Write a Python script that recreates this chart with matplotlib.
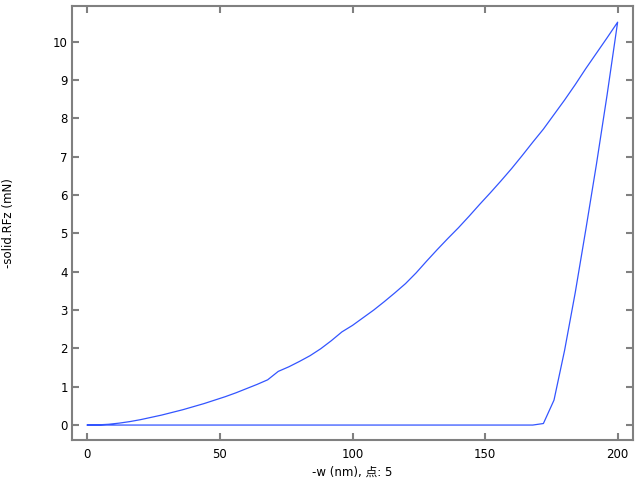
import matplotlib
matplotlib.use('Agg')
import matplotlib.pyplot as plt

plt.rcParams['font.family'] = ['DejaVu Sans', 'Noto Sans CJK SC']

# loading branch: displacement (nm) and reaction force (mN)
w_load = [0, 4, 8, 12, 16, 20, 24, 28, 32, 36, 40, 44, 48, 52, 56, 60, 64,
          68, 72, 76, 80, 84, 88, 92, 96, 100, 104, 108, 112, 116, 120, 124,
          128, 132, 136, 140, 144, 148, 152, 156, 160, 164, 168, 172, 176,
          180, 184, 188, 192, 196, 200]
f_load = [0, 0.005, 0.02, 0.05, 0.09, 0.14, 0.2, 0.26, 0.33, 0.4, 0.48, 0.56,
          0.65, 0.74, 0.84, 0.95, 1.06, 1.18, 1.40, 1.52, 1.66, 1.81, 1.99,
          2.2, 2.43, 2.6, 2.8, 3.0, 3.22, 3.45, 3.69, 3.97, 4.28, 4.58,
          4.87, 5.15, 5.45, 5.76, 6.06, 6.37, 6.69, 7.03, 7.38, 7.72, 8.1,
          8.48, 8.88, 9.3, 9.7, 10.1, 10.51]

# unloading branch
w_unload = [200, 196, 192, 188, 184, 180, 176, 172, 168, 0]
f_unload = [10.51, 8.6, 6.8, 5.1, 3.45, 1.95, 0.65, 0.04, 0.0, 0.0]

line_color = '#3355ff'
spine_color = '#808080'

fig = plt.figure(figsize=(6.4, 4.8), dpi=100)
ax = fig.add_axes([72 / 640, 1 - 440 / 480, (633 - 72) / 640, (440 - 5.7) / 480])

ax.plot(w_load + w_unload, f_load + f_unload, color=line_color, linewidth=0.9)

ax.set_xlim(-5.8, 205.8)
ax.set_ylim(-0.39, 10.94)
ax.set_xticks([0, 50, 100, 150, 200])
ax.set_yticks(range(0, 11))

for side in ax.spines.values():
    side.set_color(spine_color)
    side.set_linewidth(1.5)

ax.tick_params(direction='in', length=5, width=1.5, color=spine_color,
               top=True, right=True, labelsize=8.5, labelcolor='black')
ax.tick_params(axis='x', pad=6)
ax.tick_params(axis='y', pad=3)

ax.set_xlabel('-w (nm), 点: 5', fontsize=8.5, labelpad=3)
ax.set_ylabel('-solid.RFz (mN)', fontsize=8.5)
ax.yaxis.set_label_coords(-0.102, 0.5)

fig.savefig('out.png', dpi=100)
